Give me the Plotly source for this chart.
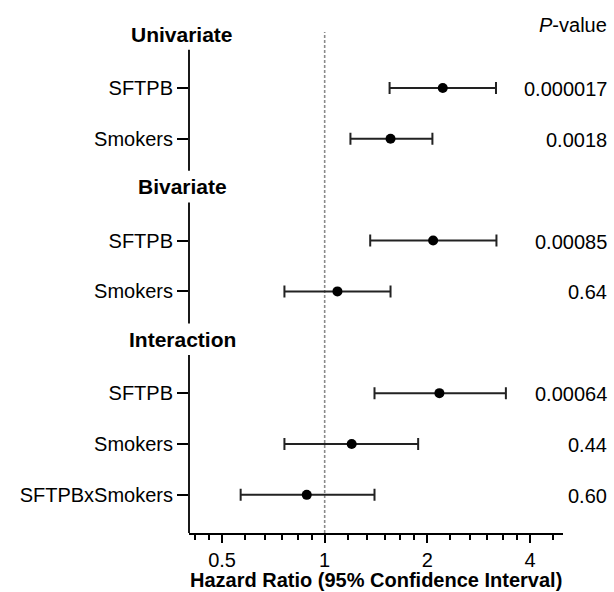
import math
import plotly.graph_objects as go

# ---- data ----
sections = ["Univariate", "Bivariate", "Interaction"]
section_rows = [0, 3, 6]
labels = ["SFTPB", "Smokers", "SFTPB", "Smokers", "SFTPB", "Smokers", "SFTPBxSmokers"]
rows = [1, 2, 4, 5, 7, 8, 9]
hr = [2.22, 1.56, 2.08, 1.09, 2.17, 1.20, 0.886]
ci_low = [1.55, 1.19, 1.36, 0.762, 1.40, 0.762, 0.567]
ci_high = [3.18, 2.07, 3.19, 1.56, 3.40, 1.88, 1.40]
pvalues = ["0.000017", "0.0018", "0.00085", "0.64", "0.00064", "0.44", "0.60"]
x_ticks = [0.5, 1, 2, 4]

FONT = "Liberation Sans, Arial, Helvetica, sans-serif"

fig = go.Figure()
fig.add_trace(go.Scatter(
    x=hr, y=rows, mode="markers",
    marker=dict(color="black", size=10),
    error_x=dict(type="data", symmetric=False,
                 array=[h - m for h, m in zip(ci_high, hr)],
                 arrayminus=[m - l for m, l in zip(hr, ci_low)],
                 color="#222222", thickness=2, width=6),
    showlegend=False, cliponaxis=False, hoverinfo="skip",
))

# minor ticks: 6 subdivisions per doubling
minor_vals = []
for base in [0.25, 0.5, 1, 2, 4]:
    for k in range(1, 6):
        v = base + base * k / 6
        if 0.4 <= v <= 5:
            minor_vals.append(v)

shapes = []
# reference line at HR = 1
shapes.append(dict(type="line", xref="x", yref="paper", x0=1, x1=1, y0=0, y1=1,
                   line=dict(color="#8a8a8a", width=1.6, dash="3px,2px"), layer="below"))
# broken y-axis segments
seg_ends = [2.63, 5.63, 9.75]
for s, e in zip(section_rows, seg_ends):
    shapes.append(dict(type="line", xref="paper", yref="y", x0=0, x1=0, y0=s + 0.25, y1=e,
                       line=dict(color="black", width=1.8)))

annotations = []
for name, r in zip(sections, section_rows):
    annotations.append(dict(text="<b>%s</b>" % name, xref="paper", yref="y", x=0, y=r,
                            xanchor="center", yanchor="middle", xshift=-7, yshift=3,
                            showarrow=False, font=dict(family=FONT, size=21, color="black")))
px_w = 614 - 189 - 51
xp = (609 - 189) / px_w
for p, r in zip(pvalues, rows):
    annotations.append(dict(text=p, xref="paper", yref="y", x=xp, y=r,
                            xanchor="right", yanchor="middle", yshift=-1, showarrow=False,
                            font=dict(family=FONT, size=20, color="black")))
annotations.append(dict(text="<i>P</i>-value", xref="paper", yref="y", x=xp, y=0,
                        xanchor="right", yanchor="middle", yshift=12, showarrow=False,
                        font=dict(family=FONT, size=20, color="black")))
annotations.append(dict(text="<b>Hazard Ratio (95% Confidence Interval)</b>", xref="paper",
                        yref="paper", x=0.5, y=0, xanchor="center", yanchor="middle",
                        yshift=-47, showarrow=False,
                        font=dict(family=FONT, size=20, color="black")))

fig.update_layout(
    width=614, height=592,
    margin=dict(l=189, r=51, t=32, b=59),
    paper_bgcolor="white", plot_bgcolor="white",
    font=dict(family=FONT, size=20, color="black"),
    shapes=shapes, annotations=annotations,
    xaxis=dict(type="log", range=[math.log10(0.4), math.log10(5)],
               tickmode="array", tickvals=x_ticks, ticktext=[str(v) for v in x_ticks],
               showline=True, linecolor="black", linewidth=1.8,
               ticks="outside", ticklen=8, tickwidth=1.8, tickcolor="black",
               showgrid=False, zeroline=False,
               tickfont=dict(family=FONT, size=20, color="black"),
               minor=dict(tickmode="array", tickvals=minor_vals, ticks="outside",
                          ticklen=5, tickwidth=1.5, tickcolor="black", showgrid=False)),
    yaxis=dict(range=[9.75, -0.1], tickmode="array", tickvals=rows, ticktext=labels,
               showline=False, ticks="outside", ticklen=11, tickwidth=1.8,
               tickcolor="black", showgrid=False, zeroline=False,
               tickfont=dict(family=FONT, size=20, color="black")),
)

fig.write_html("out.html", config={"displayModeBar": False},
               post_script="document.body.style.margin='0';")
